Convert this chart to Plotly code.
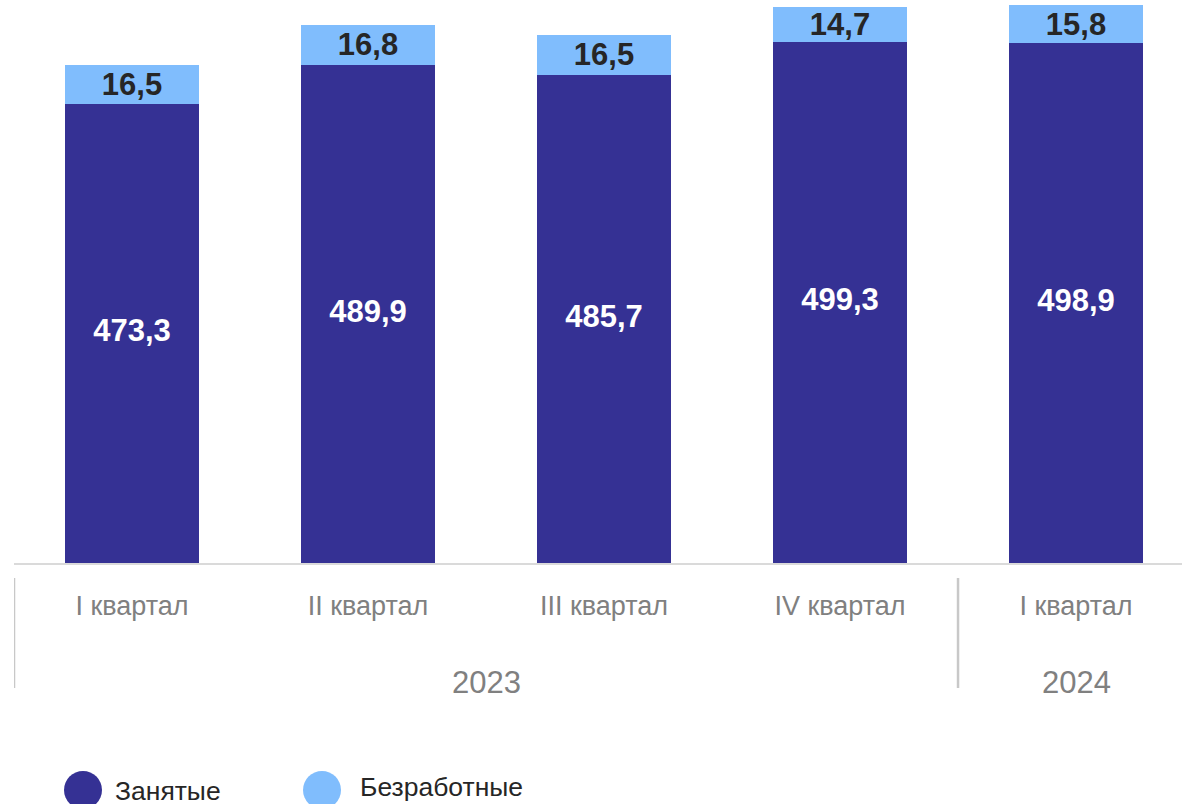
import plotly.graph_objects as go

years = ["2023", "2023", "2023", "2023", "2024"]
quarters = ["I квартал", "II квартал", "III квартал", "IV квартал", "I квартал"]
employed = [473.3, 489.9, 485.7, 499.3, 498.9]
unemployed = [16.5, 16.8, 16.5, 14.7, 15.8]
names = ["Занятые", "Безработные"]

DARK = "#353194"
LIGHT = "#80BDFD"
FONT = "Liberation Sans, Arial, sans-serif"
Y_MIN, Y_MAX = 281, 517

keys = [f"{y} {q}" for y, q in zip(years, quarters)]

fig = go.Figure()
fig.add_trace(go.Bar(x=keys, y=employed, name=names[0], marker=dict(color=DARK, line=dict(width=0)),
                     width=0.57, showlegend=False, textposition="none"))
fig.add_trace(go.Bar(x=keys, y=unemployed, name=names[1], marker=dict(color=LIGHT, line=dict(width=0)),
                     width=0.57, showlegend=False,
                     texttemplate="%{y:.1f}", textposition="inside", insidetextanchor="middle",
                     constraintext="none",
                     textfont=dict(family=FONT, size=31, color="#262626", weight="bold")))
# labels centred in the visible part of the dark bars
fig.add_trace(go.Scatter(x=keys, y=[(Y_MIN + v) / 2 for v in employed], mode="text",
                         text=[f"{v:.1f}".replace(".", ",") for v in employed],
                         textfont=dict(family=FONT, size=31, color="white", weight="bold"),
                         showlegend=False, cliponaxis=False, hoverinfo="skip"))

W, H, PLOT_TOP, BASE, L = 1182, 804, 0, 563, 14
def px(xp):
    return (xp - L) / (W - L)
def py(yp):
    return (BASE - yp) / (BASE - PLOT_TOP)

shapes = []
annotations = []

# year groups: labels centred under each group, dividers at group starts
groups = []
for i, y in enumerate(years):
    if not groups or groups[-1][0] != y:
        groups.append([y, i, i])
    else:
        groups[-1][2] = i
for y, i0, i1 in groups:
    annotations.append(dict(xref="x", yref="paper", x=(i0 + i1) / 2, y=py(682), xanchor="center",
                            yanchor="middle", text=y, showarrow=False,
                            font=dict(family=FONT, size=31, color="#808080")))
    shapes.append(dict(type="line", xref="x", yref="paper", x0=i0 - 0.5, x1=i0 - 0.5,
                       y0=py(578), y1=py(688), line=dict(color="#c8c8c8", width=2.5)))

# legend drawn as circles + text
for cx, cy, col, tx, ty, label in [(83, 790, DARK, 113, 791, names[0]), (322, 790, LIGHT, 358, 787, names[1])]:
    shapes.append(dict(type="circle", xref="paper", yref="paper", xsizemode="pixel", ysizemode="pixel",
                       xanchor=px(cx), yanchor=py(cy), x0=-19, x1=19, y0=-19, y1=19,
                       fillcolor=col, line=dict(width=0), layer="above"))
    annotations.append(dict(xref="paper", yref="paper", x=px(tx), y=py(ty), xanchor="left", yanchor="middle",
                            text=label, showarrow=False, font=dict(family=FONT, size=26.5, color="#262626")))

fig.update_layout(
    width=W, height=H,
    barmode="stack",
    separators=", ",
    margin=dict(l=L, r=0, t=PLOT_TOP, b=H - BASE, autoexpand=False),
    paper_bgcolor="white", plot_bgcolor="white",
    font=dict(family=FONT),
    shapes=shapes, annotations=annotations,
    xaxis=dict(type="category", tickvals=keys, ticktext=quarters, range=[-0.5, 4.449],
               showline=True, linecolor="#dadada", linewidth=2, ticks="",
               ticklabelstandoff=18,
               tickfont=dict(family=FONT, size=27, color="#808080"), showgrid=False, zeroline=False),
    yaxis=dict(range=[Y_MIN, Y_MAX], visible=False, showgrid=False, zeroline=False),
)

fig.write_html("out.html", config={"displayModeBar": False},
               post_script="document.body.style.margin='0';document.body.style.overflow='hidden';")
